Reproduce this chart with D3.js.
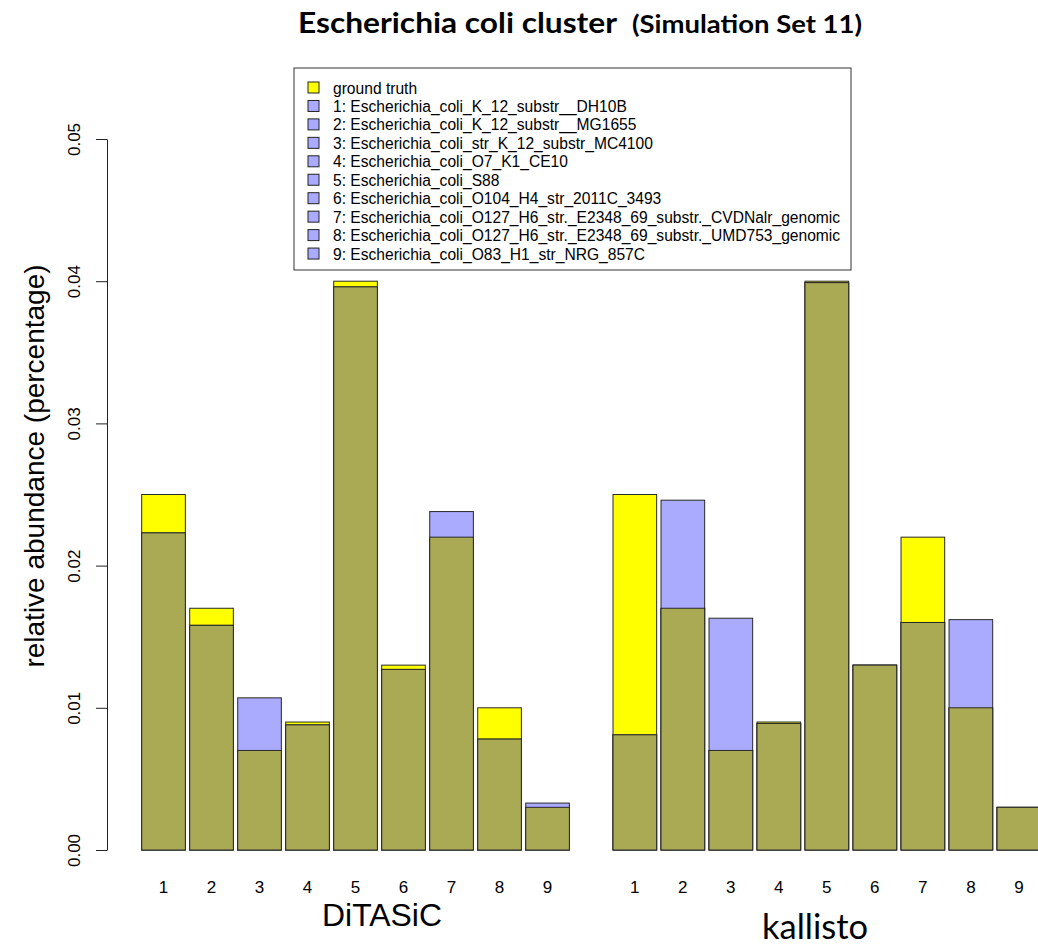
<!DOCTYPE html>
<html lang="en">
<head>
  <meta charset="UTF-8">
  <script src="https://d3js.org/d3.v7.min.js"></script>
  <title>Escherichia coli cluster</title>
  <style>
    body { margin: 0; padding: 0; background: #fff; }
    svg { display: block; }
    .ax text { font-family: "Liberation Sans", Arial, sans-serif; }
  </style>
</head>
<body>
  <div id="chart"></div>
  <script>
    // ground truth is the same for both tools
    let strains = ["1", "2", "3", "4", "5", "6", "7", "8", "9"]
    let groups = ["DiTASiC", "kallisto"]
    let truth = [0.025, 0.017, 0.007, 0.009, 0.040, 0.013, 0.022, 0.010, 0.003]
    let ditasic = [0.0223, 0.0158, 0.0107, 0.0088, 0.0396, 0.0127, 0.0238, 0.0078, 0.0033]
    let kallisto = [0.0081, 0.0246, 0.0163, 0.0089, 0.0399, 0.0130, 0.0160, 0.0162, 0.0030]
    let yTicks = [0, 0.01, 0.02, 0.03, 0.04, 0.05]
    let legendLabels = [
      "ground truth",
      "1: Escherichia_coli_K_12_substr__DH10B",
      "2: Escherichia_coli_K_12_substr__MG1655",
      "3: Escherichia_coli_str_K_12_substr_MC4100",
      "4: Escherichia_coli_O7_K1_CE10",
      "5: Escherichia_coli_S88",
      "6: Escherichia_coli_O104_H4_str_2011C_3493",
      "7: Escherichia_coli_O127_H6_str._E2348_69_substr._CVDNalr_genomic",
      "8: Escherichia_coli_O127_H6_str._E2348_69_substr._UMD753_genomic",
      "9: Escherichia_coli_O83_H1_str_NRG_857C"
    ]

    let width = 1038, height = 947
    let yellow = "#ffff00", blue = "#aaaaff", olive = "#aaaa55"

    let svg = d3.select("#chart").append("svg")
      .attr("width", width).attr("height", height)

    // R barplot units: bar width 1, space 0.1, one bar of gap between groups
    let x = d3.scaleLinear().domain([0, 1]).range([141.7, 141.7 + 43.64])
    let y = d3.scaleLinear().domain([0, 0.05]).range([850, 139])

    let bars = []
    let ests = [ditasic, kallisto]
    groups.forEach((g, gi) => {
      strains.forEach((s, i) => {
        bars.push({ g: gi, i: i, left: gi * 10.8 + i * 1.1, t: truth[i], e: ests[gi][i] })
      })
    })

    let gb = svg.append("g")
    let bg = gb.selectAll("g").data(bars).enter().append("g")
    let bw = x(1) - x(0)
    function rect(sel, val, fill) {
      sel.append("rect")
        .attr("x", d => x(d.left))
        .attr("width", bw)
        .attr("y", d => y(val(d)))
        .attr("height", d => y(0) - y(val(d)))
        .attr("fill", fill)
        .attr("stroke", "#2a2a2a")
        .attr("stroke-width", 1)
    }
    rect(bg, d => d.t, yellow)
    rect(bg, d => d.e, blue)
    rect(bg, d => Math.min(d.t, d.e), olive)

    // y axis
    let ax = svg.append("g").attr("class", "ax")
      .attr("transform", "translate(107,0)")
      .call(d3.axisLeft(y).tickValues(yTicks).tickFormat(d3.format(".2f")).tickSize(11).tickSizeOuter(0))
    ax.select(".domain").attr("stroke", "#222")
    ax.selectAll(".tick line").attr("stroke", "#222")
    ax.selectAll(".tick text")
      .attr("x", 0).attr("dy", 0)
      .attr("text-anchor", "middle")
      .attr("transform", "translate(-27,0) rotate(-90)")
      .attr("font-size", 17).attr("fill", "#000")

    svg.append("text")
      .attr("transform", "translate(44,466) rotate(-90)")
      .attr("text-anchor", "middle")
      .attr("font-family", "Liberation Sans, Arial, sans-serif")
      .attr("font-size", 28)
      .text("relative abundance (percentage)")

    // strain numbers under bars
    svg.append("g").selectAll("text").data(bars).enter().append("text")
      .attr("x", d => x(d.left + 0.5))
      .attr("y", 893)
      .attr("text-anchor", "middle")
      .attr("font-family", "Liberation Sans, Arial, sans-serif")
      .attr("font-size", 17)
      .text(d => strains[d.i])

    // group labels
    svg.append("text")
      .attr("x", 382).attr("y", 926)
      .attr("text-anchor", "middle")
      .attr("font-family", "Liberation Sans, Arial, sans-serif")
      .attr("font-size", 32)
      .attr("textLength", 120).attr("lengthAdjust", "spacingAndGlyphs")
      .text(groups[0])
    svg.append("text")
      .attr("x", 815).attr("y", 939)
      .attr("text-anchor", "middle")
      .attr("font-family", "Lato, sans-serif")
      .attr("font-size", 35)
      .attr("textLength", 106).attr("lengthAdjust", "spacingAndGlyphs")
      .text(groups[1])

    // title
    svg.append("text")
      .attr("x", 298).attr("y", 33)
      .attr("font-family", "Lato, sans-serif")
      .attr("font-weight", "bold")
      .attr("font-size", 29)
      .attr("textLength", 319).attr("lengthAdjust", "spacingAndGlyphs")
      .text("Escherichia coli cluster")
    svg.append("text")
      .attr("x", 632).attr("y", 33)
      .attr("font-family", "Lato, sans-serif")
      .attr("font-weight", "bold")
      .attr("font-size", 24)
      .attr("textLength", 230).attr("lengthAdjust", "spacingAndGlyphs")
      .text("(Simulation Set 11)")

    // legend
    let lg = svg.append("g").attr("transform", "translate(294,68)")
    lg.append("rect")
      .attr("width", 557).attr("height", 202)
      .attr("fill", "#fff").attr("stroke", "#333")
    let li = lg.selectAll("g").data(legendLabels).enter().append("g")
      .attr("transform", (d, i) => `translate(0,${20 + i * 18.45})`)
    li.append("rect")
      .attr("x", 14).attr("y", -6).attr("width", 11).attr("height", 11)
      .attr("fill", (d, i) => i == 0 ? yellow : blue)
      .attr("stroke", "#222")
    li.append("text")
      .attr("x", 39).attr("y", 5.5)
      .attr("font-family", "Liberation Sans, Arial, sans-serif")
      .attr("font-size", 15.6)
      .text(d => d)
  </script>
</body>
</html>
